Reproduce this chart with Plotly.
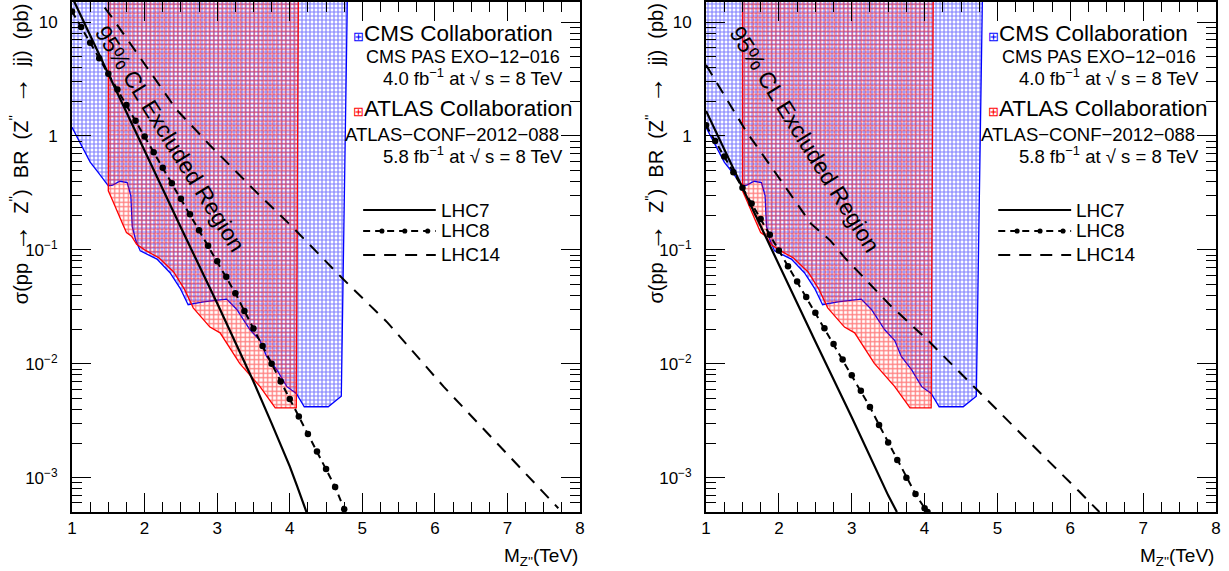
import plotly.graph_objects as go

# ---------------- data ----------------
# CMS (EXO-12-016) 95% CL limit boundary (lower edge of excluded region)
cms_mass = [1.00, 1.08, 1.16, 1.25, 1.36, 1.50, 1.56, 1.66, 1.76, 1.81, 1.83, 1.88, 1.94,
            2.05, 2.17, 2.35, 2.49, 2.60, 2.81, 3.13, 3.27, 3.45, 3.59, 3.68, 3.82, 3.96,
            4.09, 4.20, 4.53, 4.71]
cms_sigma = [1.19, 0.95, 0.77, 0.59, 0.48, 0.365, 0.37, 0.40, 0.39, 0.30, 0.16, 0.12, 0.098,
             0.090, 0.083, 0.063, 0.046, 0.033, 0.035, 0.037, 0.030, 0.020, 0.016, 0.0116,
             0.0089, 0.0063, 0.0055, 0.0042, 0.0042, 0.0052]
cms_top_mass = 4.80

# ATLAS (CONF-2012-088) 95% CL limit boundary
atlas_mass = [1.50, 1.50, 1.55, 1.64, 1.71, 1.75, 1.82, 1.89, 2.00, 2.20, 2.40, 2.55, 2.67,
              2.90, 3.04, 3.31, 3.59, 3.80, 4.09]
atlas_sigma = [30.0, 0.33, 0.28, 0.21, 0.162, 0.142, 0.132, 0.112, 0.100, 0.085, 0.064, 0.045,
               0.031, 0.021, 0.0187, 0.0101, 0.0063, 0.0041, 0.0041]
atlas_top_mass = 4.12
region_top = 30.0

# Left panel theory curves
lhc7_mass = [1.00, 1.50, 2.00, 2.50, 3.00, 3.50, 3.75, 4.00, 4.10, 4.23]
lhc7_sigma = [16.6, 3.5, 0.74, 0.157, 0.034, 0.0070, 0.0030, 0.00126, 0.00085, 0.0005]

lhc8_mass = [1.00, 1.125, 1.25, 1.375, 1.50, 1.625, 1.75, 1.875, 2.00, 2.125, 2.25, 2.375,
             2.50, 2.625, 2.75, 2.875, 3.00, 3.125, 3.25, 3.375, 3.50, 3.625, 3.75, 3.875,
             4.00, 4.125, 4.25, 4.375, 4.50, 4.625, 4.75]
lhc8_sigma = [12.4, 9.04, 6.59, 4.81, 3.51, 2.56, 1.87, 1.36, 0.99, 0.72, 0.527, 0.385,
              0.281, 0.205, 0.149, 0.109, 0.0794, 0.058, 0.0417, 0.0291, 0.0204, 0.0143,
              0.0100, 0.0070, 0.00492, 0.00345, 0.00242, 0.0017, 0.00119, 0.00083, 0.00053]

lhc14_mass = [1.00, 1.39, 1.55, 2.00, 2.44, 2.71, 2.90, 3.52, 4.04, 4.71, 5.00, 5.35, 6.12,
              6.90, 7.70]
lhc14_sigma = [39.8, 15.1, 11.0, 4.27, 1.70, 1.12, 0.83, 0.331, 0.158, 0.0575, 0.038, 0.0229,
               0.0063, 0.00186, 0.00054]

# Right panel theory curves
lhc7r_mass = [1.00, 1.50, 2.00, 2.50, 3.00, 3.50, 3.62]
lhc7r_sigma = [1.66, 0.35, 0.074, 0.0157, 0.0034, 0.00070, 0.0005]

lhc8r_mass = [1.00, 1.125, 1.25, 1.375, 1.50, 1.625, 1.75, 1.875, 2.00, 2.125, 2.25, 2.375,
              2.50, 2.625, 2.75, 2.875, 3.00, 3.125, 3.25, 3.375, 3.50, 3.625, 3.75, 3.875,
              4.00, 4.04]
lhc8r_sigma = [1.24, 0.904, 0.659, 0.481, 0.351, 0.256, 0.187, 0.136, 0.099, 0.072, 0.0527,
               0.0385, 0.0281, 0.0205, 0.0149, 0.0109, 0.00794, 0.0058, 0.00417, 0.00291,
               0.00204, 0.00143, 0.00100, 0.00072, 0.00054, 0.0005]

lhc14r_mass = [1.00, 1.55, 2.00, 2.44, 2.71, 2.90, 3.52, 4.04, 4.71, 5.00, 5.35, 6.12, 6.40]
lhc14r_sigma = [4.2, 1.10, 0.43, 0.17, 0.12, 0.086, 0.033, 0.0162, 0.0060, 0.0039, 0.00234,
                0.00076, 0.0005]

x_ticks = [1, 2, 3, 4, 5, 6, 7, 8]
y_ticks = [0.001, 0.01, 0.1, 1, 10]
y_ticktext = ["10<sup>\u22123</sup>", "10<sup>\u22122</sup>", "10<sup>\u22121</sup>", "1", "10"]
y_minor = [k * 10.0 ** e for e in range(-4, 2) for k in range(2, 10)]

FONT = "Liberation Sans, Arial, Helvetica, sans-serif"
BLUE = "rgb(0,0,255)"
RED = "rgb(255,0,0)"

fig = go.Figure()

panels = [
    ("x", "y", lhc7_mass, lhc7_sigma, lhc8_mass, lhc8_sigma, lhc14_mass, lhc14_sigma),
    ("x2", "y2", lhc7r_mass, lhc7r_sigma, lhc8r_mass, lhc8r_sigma, lhc14r_mass, lhc14r_sigma),
]

for xa, ya, m7, s7, m8, s8, m14, s14 in panels:
    # CMS region
    fig.add_trace(go.Scatter(
        x=cms_mass + [cms_top_mass, cms_mass[0]],
        y=cms_sigma + [region_top, region_top],
        xaxis=xa, yaxis=ya, mode="lines", fill="toself",
        line=dict(color=BLUE, width=1.3),
        fillcolor="rgba(0,0,0,0)",
        fillpattern=dict(shape="+", fgcolor=BLUE, bgcolor="rgba(0,0,0,0)",
                         size=4, solidity=0.5, fillmode="overlay"),
        showlegend=False, hoverinfo="skip"))
    # ATLAS region
    fig.add_trace(go.Scatter(
        x=atlas_mass + [atlas_top_mass],
        y=atlas_sigma + [region_top],
        xaxis=xa, yaxis=ya, mode="lines", fill="toself",
        line=dict(color=RED, width=1.3),
        fillcolor="rgba(0,0,0,0)",
        fillpattern=dict(shape="+", fgcolor=RED, bgcolor="rgba(0,0,0,0)",
                         size=4.5, solidity=0.5, fillmode="overlay"),
        showlegend=False, hoverinfo="skip"))
    # LHC7
    fig.add_trace(go.Scatter(x=m7, y=s7, xaxis=xa, yaxis=ya, mode="lines",
                             line=dict(color="black", width=2.2),
                             showlegend=False, hoverinfo="skip"))
    # LHC8
    fig.add_trace(go.Scatter(x=m8, y=s8, xaxis=xa, yaxis=ya, mode="lines+markers",
                             line=dict(color="black", width=2, dash="7px,5px"),
                             marker=dict(color="black", size=6.5),
                             showlegend=False, hoverinfo="skip"))
    # LHC14
    fig.add_trace(go.Scatter(x=m14, y=s14, xaxis=xa, yaxis=ya, mode="lines",
                             line=dict(color="black", width=2, dash="12px,9px"),
                             showlegend=False, hoverinfo="skip"))

axis_common = dict(showline=True, linecolor="black", linewidth=2, mirror="allticks",
                   ticks="inside", tickcolor="black", tickwidth=1.3, showgrid=False,
                   zeroline=False, automargin=False,
                   tickfont=dict(family=FONT, size=17, color="black"))

xcfg = dict(axis_common, range=[1, 8], tickmode="array", tickvals=x_ticks, ticklen=19,
            minor=dict(dtick=0.25, tick0=1, ticks="inside", ticklen=10, tickcolor="black",
                       tickwidth=1.2, showgrid=False))
ycfg = dict(axis_common, type="log", range=[-3.301, 1.176], tickmode="array",
            tickvals=y_ticks, ticktext=y_ticktext, ticklen=19, ticklabelstandoff=9,
            minor=dict(tickmode="array", tickvals=y_minor, ticks="inside", ticklen=10,
                       tickcolor="black", tickwidth=1.2, showgrid=False))

fig.update_layout(
    width=1229, height=571,
    margin=dict(l=0, r=0, t=0, b=0, autoexpand=False),
    paper_bgcolor="white", plot_bgcolor="white",
    xaxis=dict(xcfg, domain=[0.0586, 0.4720], anchor="y"),
    yaxis=dict(ycfg, domain=[0.1033, 0.9965], anchor="x"),
    xaxis2=dict(xcfg, domain=[0.5745, 0.9894], anchor="y2"),
    yaxis2=dict(ycfg, domain=[0.1033, 0.9965], anchor="x2"),
    showlegend=False,
)

NB = "\u00a0"
ARROW = "<span style='font-size:27px'>\u2192</span>"
ytitle_text = ("\u03c3(pp" + NB * 2 + ARROW + NB * 2 + "Z<sup>''</sup>)" + NB * 2 + "BR" + NB * 2 +
               "(Z<sup>''</sup>" + NB * 2 + ARROW + NB * 2 + "jj)" + NB * 2 + "(pb)")

annotations = []
shapes = []
for xa, ya, ytitle_x, xtitle_x in [("x", "y", 0.0150, 0.4720), ("x2", "y2", 0.5320, 0.9894)]:
    xd = xa + " domain"
    yd = ya + " domain"
    # rotated excluded-region label
    annotations.append(dict(x=2.35, y=-0.03, xref=xa, yref=ya, text="95% CL Excluded Region",
                            textangle=58, showarrow=False,
                            font=dict(family=FONT, size=23, color="black")))
    # collaboration legend
    annotations += [
        dict(x=0.549, y=0.939, xref=xd, yref=yd, xanchor="left", yanchor="middle",
             text="<span style='color:blue;font-size:13px'>\u229e</span>CMS Collaboration",
             showarrow=False, font=dict(family=FONT, size=22.5, color="black")),
        dict(x=0.965, y=0.892, xref=xd, yref=yd, xanchor="right", yanchor="middle",
             text="CMS PAS EXO\u221212\u2212016", showarrow=False,
             font=dict(family=FONT, size=18, color="black")),
        dict(x=0.970, y=0.853, xref=xd, yref=yd, xanchor="right", yanchor="middle",
             text="4.0 fb<sup>\u22121</sup> at \u221a s = 8 TeV", showarrow=False,
             font=dict(family=FONT, size=18.5, color="black")),
        dict(x=0.549, y=0.792, xref=xd, yref=yd, xanchor="left", yanchor="middle",
             text="<span style='color:red;font-size:13px'>\u229e</span>ATLAS Collaboration",
             showarrow=False, font=dict(family=FONT, size=22.5, color="black")),
        dict(x=0.963, y=0.741, xref=xd, yref=yd, xanchor="right", yanchor="middle",
             text="ATLAS\u2212CONF\u22122012\u2212088", showarrow=False,
             font=dict(family=FONT, size=18.5, color="black")),
        dict(x=0.970, y=0.700, xref=xd, yref=yd, xanchor="right", yanchor="middle",
             text="5.8 fb<sup>\u22121</sup> at \u221a s = 8 TeV", showarrow=False,
             font=dict(family=FONT, size=18.5, color="black")),
    ]
    # line legend
    for ypos, label, dash in [(0.592, "LHC7", "solid"), (0.551, "LHC8", "7px,5px"),
                              (0.504, "LHC14", "12px,9px")]:
        shapes.append(dict(type="line", xref=xd, yref=yd, x0=0.573, x1=0.716, y0=ypos, y1=ypos,
                           line=dict(color="black", width=2, dash=dash)))
        annotations.append(dict(x=0.722, y=ypos, xref=xd, yref=yd, xanchor="left",
                                yanchor="middle", text=label, showarrow=False,
                                font=dict(family=FONT, size=19, color="black")))
        if label == "LHC8":
            for cx in [0.61, 0.655, 0.70]:
                shapes.append(dict(type="circle", xref=xd, yref=yd, x0=cx - 0.005, x1=cx + 0.005,
                                   y0=ypos - 0.005, y1=ypos + 0.005, fillcolor="black",
                                   line=dict(color="black", width=0)))
    # axis titles
    annotations.append(dict(x=ytitle_x, y=0.997, xref="paper", yref="paper", textangle=-90,
                            xanchor="center", yanchor="top", text=ytitle_text,
                            showarrow=False, font=dict(family=FONT, size=20, color="black")))
    annotations.append(dict(x=xtitle_x, y=0.025, xref="paper", yref="paper", xanchor="right",
                            yanchor="middle", text="M<sub>Z''</sub>(TeV)", showarrow=False,
                            font=dict(family=FONT, size=19, color="black")))

fig.update_layout(annotations=annotations, shapes=shapes)
fig.write_html("out.html", config={"displayModeBar": False},
               post_script="document.body.style.margin='0px';document.body.style.overflow='hidden';")
